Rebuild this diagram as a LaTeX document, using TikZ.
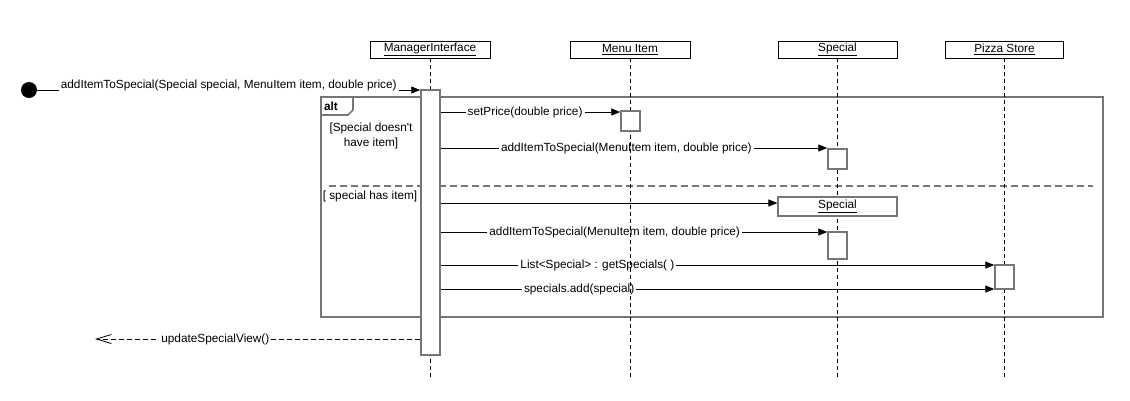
\documentclass[tikz,border=0pt]{standalone}
\usepackage{fontspec}
\setmainfont{Liberation Sans}
\usetikzlibrary{arrows.meta}
\usetikzlibrary{backgrounds}
\definecolor{framegray}{RGB}{118,118,118}

\begin{document}
\begin{tikzpicture}[x=1pt,y=-1pt,line join=miter,
    every node/.style={font=\fontsize{11.8}{15}\selectfont},
    head/.style={draw=black,line width=0.8pt,fill=white,minimum width=120,minimum height=17,inner sep=0pt},
    act/.style={draw=framegray,line width=1.5pt,fill=white,minimum width=19,inner sep=0pt},
    lifeline/.style={draw=black,line width=0.7pt,dash pattern=on 4pt off 3pt},
    msg/.style={draw=black,line width=0.8pt,-{Triangle[length=9pt,width=7pt]}},
    reply/.style={draw=black,line width=0.8pt,dash pattern=on 5pt off 3pt,-{Straight Barb[length=15pt,width=9pt]}},
    lbl/.style={fill=white,inner sep=2pt},
    frame/.style={draw=framegray,line width=1.6pt},
    divider/.style={draw=framegray,line width=1.4pt,dash pattern=on 7pt off 4pt}]
        \useasboundingbox (0,0) rectangle (1130,400);
        % lifeline heads
        \node[head] (mgr) at (430,49.5) {\underline{ManagerInterface}};
        \node[head] (menu) at (630,49.5) {\underline{Menu Item}};
        \node[head,minimum width=119] (spec) at (837.5,49.5) {\underline{Special}};
        \node[head,minimum width=118] (store) at (1004.5,49.5) {\underline{Pizza Store}};
        \coordinate (mgr end) at (430,380);
        \coordinate (menu end) at (630,380);
        \coordinate (spec end) at (837.5,380);
        \coordinate (store end) at (1004.5,380);
        \draw[lifeline] (mgr.south) -- (mgr end);
        \draw[lifeline] (menu.south) -- (menu end);
        \draw[lifeline] (spec.south) -- (spec end);
        \draw[lifeline] (store.south) -- (store end);
        % activations
        \node[act,minimum height=265] (mgract) at (430.5,222.5) {};
        \node[act,minimum height=20] (menuact) at (630.5,121) {};
        \node[act,minimum height=20] (specact) at (837.5,159) {};
        \node[head,draw=framegray,line width=1.2pt,minimum width=119,minimum height=19] (specnew) at (837.5,206.5) {\underline{Special}};
        \node[act,minimum height=27] (specact2) at (837.5,245.5) {};
        \node[act,minimum height=24] (storeact) at (1004.5,277) {};
        % caller
        \node[circle,fill=black,minimum size=16,inner sep=0pt] (start) at (29,90) {};
        \coordinate (caller) at (95,339);
        % message heights
        \coordinate (y0) at (0,90);
        \coordinate (y1) at (0,112);
        \coordinate (y2) at (0,148);
        \coordinate (y3) at (0,203);
        \coordinate (y4) at (0,232);
        \coordinate (y5) at (0,265);
        \coordinate (y6) at (0,289);
        \begin{scope}[on background layer]
        % alt frame
        \draw[frame] (321,97) rectangle (1103,317);
        \draw[frame] (321,115) -- (348,115) -- (353,110) -- (353,97);
        \node[font=\fontsize{11.8}{15}\selectfont\bfseries] (alt) at (331,106) {alt};
        \node[align=center] (guard1) at (371,135.5) {[Special doesn\textquotesingle t\\have item]};
        \node (guard2) at (370,196) {[ special has item]};
        \draw[divider] (329,186) -- (1093,186);
        % messages
        \draw[msg] (start.east) -- node[lbl,pos=0.5,yshift=5pt] {addItemToSpecial(Special special, MenuItem item, double price)} (mgract.west |- y0);
        \draw[msg] (mgract.east |- y1) -- node[lbl,pos=0.47] {setPrice(double price)} (menuact.west |- y1);
        \draw[msg] (mgract.east |- y2) -- node[lbl,pos=0.48] {addItemToSpecial(MenuItem item, double price)} (specact.west |- y2);
        \draw[msg] (mgract.east |- y3) -- (specnew.west |- y3);
        \draw[msg] (mgract.east |- y4) -- node[lbl,pos=0.45] {addItemToSpecial(MenuItem item, double price)} (specact2.west |- y4);
        \draw[msg] (mgract.east |- y5) -- node[lbl,pos=0.283] {List<Special> : getSpecials( )} (storeact.west |- y5);
        \draw[msg] (mgract.east |- y6) -- node[lbl,pos=0.25] {specials.add(special)} (storeact.west |- y6);
        \draw[reply] (mgract.west |- caller) -- node[lbl,pos=0.63] {updateSpecialView()} (caller);
        \end{scope}
      \end{tikzpicture}
\end{document}
